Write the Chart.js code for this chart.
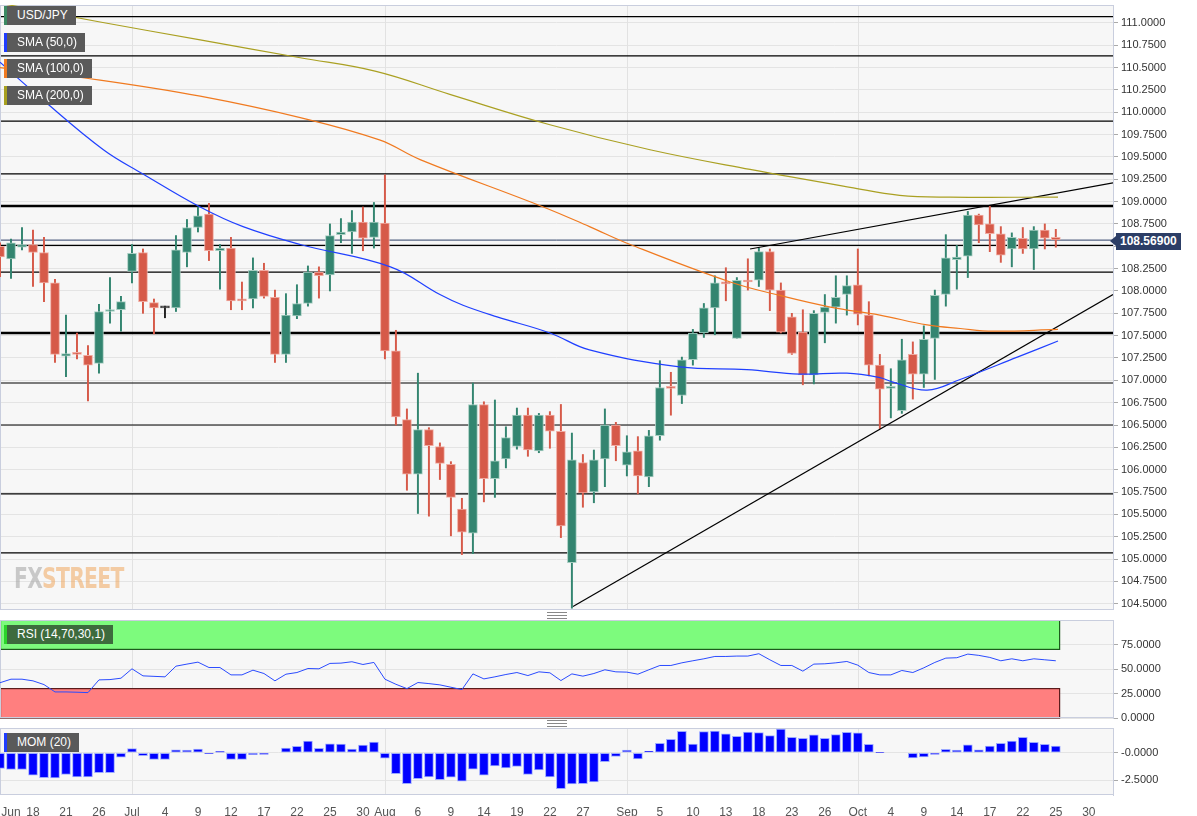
<!DOCTYPE html>
<html><head><meta charset="utf-8">
<script src="https://cdn.jsdelivr.net/npm/chart.js@4"></script>
<style>
body{margin:0;background:#fff;font-family:"Liberation Sans",Arial,sans-serif;width:1197px;height:816px;overflow:hidden;position:relative}
canvas{position:absolute;left:0}
.lbl{position:absolute;left:4px;height:19px;line-height:19px;background:#5a5a5a;color:#fff;font-size:12px;padding:0 8px 0 10px;border-left:3px solid #2e7d5f;box-sizing:border-box}
.wm{position:absolute;left:14px;top:561px;font:bold 29px "DejaVu Sans",sans-serif;letter-spacing:-1px;color:#9a9a9a;opacity:.5;transform:scaleX(0.7);transform-origin:0 0}
.wm span{color:#f0a050}
.price{position:absolute;left:1116px;top:233px;height:17px;line-height:17px;background:#2c3e66;color:#fff;font-size:12px;font-weight:bold;padding:0 4px}
.price:before{content:"";position:absolute;left:-6px;top:3px;border:5px solid transparent;border-right:6px solid #2c3e66;border-left:0}
.grip{position:absolute;left:547px;width:20px;height:5px;border-top:1px solid #888;border-bottom:1px solid #888}
.grip:after{content:"";position:absolute;left:0;right:0;top:2px;border-top:1px solid #888}
</style></head><body>
<canvas id="main"></canvas>
<canvas id="rsi"></canvas>
<canvas id="mom"></canvas>
<div class="lbl" style="top:6px;border-left-color:#3c8a63">USD/JPY</div>
<div class="lbl" style="top:33px;border-left-color:#1f3cff">SMA (50,0)</div>
<div class="lbl" style="top:59px;border-left-color:#f07a20">SMA (100,0)</div>
<div class="lbl" style="top:86px;border-left-color:#a8a020">SMA (200,0)</div>
<div class="lbl" style="top:625px;border-left-color:#2bd42b;background:#3d6b3d">RSI (14,70,30,1)</div>
<div class="lbl" style="top:733px;border-left-color:#1f3cff">MOM (20)</div>
<div class="wm">FX<span>STREET</span></div>
<div class="price">108.56900</div>
<div class="grip" style="top:612px"></div>
<div class="grip" style="top:720px"></div>
<script>
// ---- data ----
const openP  =[108.50,108.36,108.49,108.52,108.43,108.09,107.27,107.31,107.28,107.19,107.77,107.79,108.22,108.43,107.87,107.81,107.81,108.43,108.71,108.86,108.45,108.48,107.91,107.91,108.23,107.93,107.29,107.72,107.86,108.21,108.18,108.63,108.66,108.77,108.60,108.76,107.33,106.56,105.95,106.45,106.26,106.06,105.56,105.29,106.73,105.90,106.12,106.26,106.61,106.21,106.61,106.43,104.96,106.08,105.75,106.12,106.50,106.05,106.21,105.92,106.38,106.92,106.83,107.23,107.53,107.81,108.10,107.47,108.11,108.12,108.44,108.01,107.71,107.54,107.06,107.76,107.82,107.96,108.07,107.73,107.17,106.91,106.66,107.29,107.07,107.47,107.96,108.35,108.39,108.85,108.75,108.64,108.47,108.59,108.47,108.68,108.60];
const highP  =[108.54,108.58,108.71,108.68,108.60,108.13,107.73,107.53,107.39,107.85,108.15,107.94,108.52,108.47,107.91,107.83,108.62,108.80,108.94,108.98,108.52,108.60,108.10,108.37,108.31,108.01,107.97,108.07,108.28,108.27,108.75,108.81,108.90,108.94,108.99,109.30,107.56,106.68,107.08,106.47,106.30,106.09,105.68,106.97,106.76,106.78,106.48,106.69,106.69,106.63,106.65,106.73,106.41,106.17,106.22,106.68,106.53,106.38,106.37,106.44,107.22,107.09,107.26,107.57,107.86,108.17,108.26,108.15,108.36,108.48,108.47,108.09,107.75,107.79,107.78,107.96,108.17,108.17,108.47,107.88,107.29,107.13,107.46,107.43,107.61,108.01,108.63,108.51,108.89,108.86,108.95,108.72,108.65,108.71,108.72,108.75,108.69];
const lowP   =[108.16,108.14,108.46,108.05,107.88,107.20,107.04,107.24,106.77,107.08,107.64,107.55,108.09,107.75,107.52,107.70,107.77,108.27,108.66,108.34,108.02,107.79,107.79,107.81,107.92,107.20,107.20,107.69,107.83,107.92,108.00,108.54,108.42,108.45,108.48,107.24,106.50,105.77,105.51,105.48,105.89,105.26,105.05,105.06,105.64,105.69,106.02,106.23,106.15,106.19,106.24,105.24,104.45,105.58,105.63,105.81,106.10,105.93,105.73,105.81,106.33,106.61,106.74,107.17,107.48,107.51,107.89,107.47,108.01,108.05,107.78,107.53,107.29,106.95,106.96,107.42,107.64,107.73,107.62,107.05,106.46,106.58,106.63,106.79,106.92,107.01,107.83,108.02,108.15,108.54,108.44,108.32,108.27,108.42,108.24,108.47,108.49];
const closeP =[108.38,108.54,108.52,108.43,108.09,107.29,107.30,107.29,107.17,107.77,107.79,107.88,108.42,107.88,107.81,107.81,108.46,108.71,108.84,108.45,108.48,107.89,107.89,108.23,107.94,107.29,107.73,107.86,108.21,108.17,108.62,108.66,108.77,108.59,108.77,107.33,106.59,105.95,106.45,106.27,106.07,105.69,105.30,106.73,105.90,106.10,106.36,106.61,106.22,106.61,106.43,105.37,106.11,105.74,106.11,106.50,106.27,106.20,105.93,106.38,106.92,106.91,107.23,107.53,107.81,108.09,108.08,108.12,108.10,108.44,108.01,107.54,107.30,107.06,107.75,107.82,107.93,108.06,107.74,107.17,106.90,106.91,107.23,107.07,107.46,107.95,108.37,108.38,108.85,108.74,108.64,108.40,108.60,108.47,108.68,108.59,108.57];
const neutralDays=[15];
const sma50X =[0,3.6,9.4,13,18.2,22.1,27.3,35.5,40,42.1,45.2,50,53.6,61.8,67.9,72.7,77,80,81.2,84.3,87.3,92.5,96.2];
const sma50Y =[110.56,110.17,109.58,109.31,108.94,108.72,108.52,108.27,107.96,107.84,107.71,107.53,107.34,107.15,107.12,107.07,107.08,107.03,106.98,106.89,107.01,107.26,107.44];
const sma100X=[0,9.1,18.2,27.3,34.5,38.2,49.4,53.6,57.3,66.4,70.9,75.5,80,84.3,87.3,90.3,96.2];
const sma100Y=[110.50,110.36,110.18,109.94,109.69,109.47,108.94,108.72,108.52,108.10,107.95,107.82,107.73,107.62,107.58,107.55,107.57];
const sma200X=[0,9.1,18.2,27.3,34.1,40.9,50,59.1,68.2,77.3,81.8,86.4,96.2];
const sma200Y=[111.22,111.01,110.81,110.61,110.46,110.20,109.86,109.58,109.36,109.16,109.07,109.05,109.05];
const trendUpX=[68.2,101.2], trendUpY=[108.47,109.21];
const trendLowX=[52.1,101.2], trendLowY=[104.47,107.96];
const levels=[111.07,110.63,109.90,109.31,108.95,108.51,108.21,107.53,106.97,106.50,105.73,105.07];
const thickLevels=[108.95,107.53];
const lastPrice=108.569;
const rsi=[36,39.6,39.6,37.9,34.1,26.6,26.6,26.3,25.9,38.9,39.2,40.6,50.2,43,42.5,42,52.9,55,57,51.5,51.5,44,44,48.8,45.4,37.9,44.7,46.4,50.5,50.2,55.7,56,57.4,54.6,56.7,39.6,34.4,30,36.2,35.1,33.8,31.4,29,45,39.9,42,44.4,46.4,43.3,47.1,46.1,38.2,45,42.7,45.4,49.2,47.1,46.8,44.7,49.2,53.6,53.6,56.3,58.4,60.4,62.8,62.8,63.2,63.2,65.6,59.4,53.6,53.6,47.8,55,55.3,56.3,57.7,53.9,46.4,44,44,48.5,46.4,51.2,56.7,61.1,61.5,65.2,63.9,61.8,58.4,60.4,58.4,60.4,59.4,58.4];
const mom=[-1.43,-1.52,-1.52,-2.04,-2.26,-2.29,-1.98,-2.20,-2.20,-1.80,-1.80,-0.40,0.37,-0.27,-0.61,-0.61,0.27,0.24,0.34,-0.09,0.12,-0.61,-0.61,-0.18,-0.15,0,0.43,0.58,1.07,0.40,0.82,0.79,0.34,0.70,0.98,-0.49,-1.89,-2.80,-2.35,-2.20,-2.44,-2.23,-2.59,-1.49,-2.04,-1.19,-1.37,-1.25,-1.98,-1.55,-2.20,-3.26,-2.84,-2.82,-2.65,-0.82,-0.34,0.24,-0.55,0.15,0.85,1.22,1.95,0.79,1.92,1.98,1.71,1.49,1.89,1.83,1.55,2.16,1.40,1.31,1.62,1.31,1.65,1.86,1.80,0.76,0.02,0,0,-0.46,-0.37,-0.15,0.30,0.24,0.73,0.27,0.61,0.85,1.07,1.40,0.95,0.76,0.61];
const xTickIdx=[1.0,3,6,9,12,15,18,21,24,27,30,33,35,38,41,44,47,50,53,57,60,63,66,69,72,75,78,81,84,87,90,93,96,99];
const xTickLabels=["Jun","18","21","26","Jul","4","9","12","17","22","25","30","Aug","6","9","14","19","22","27","Sep","5","10","13","18","23","26","Oct","4","9","14","17","22","25","30"];
const monthIdx=[12,35,57,78];
const priceTicks=[];for(let v=104.5;v<=111.001;v+=0.25)priceTicks.push(+v.toFixed(2));

// ---- helpers ----
Chart.defaults.font.family='"Liberation Sans",Arial,sans-serif';
Chart.defaults.animation=false;
const XMIN=0,XMAX=101.2,W=1197,AXW=84;
function setup(id,top,h){const c=document.getElementById(id);c.style.top=top+'px';c.width=W;c.height=h;c.style.width=W+'px';c.style.height=h+'px';return c;}
function xScale(display){return {type:'linear',min:XMIN,max:XMAX,offset:false,display:display,grid:{display:false,offset:false},border:{display:false},
  afterBuildTicks(s){s.ticks=xTickIdx.map(v=>({value:v}));},
  ticks:{autoSkip:false,maxRotation:0,color:'#555',font:{size:12},padding:2,callback:(v,i)=>xTickLabels[i]},
  afterFit(s){s.height=display?21:0;s.paddingLeft=0;s.paddingRight=0;}};}
function yScale(min,max,ticks,fmt){return {position:'right',min,max,
  afterBuildTicks(s){s.ticks=ticks.map(v=>({value:v}));},
  afterFit(s){s.width=AXW;s.paddingTop=0;s.paddingBottom=0;},
  grid:{color:'#e4e4e4',tickColor:'#aaa',tickLength:5,drawOnChartArea:true},
  border:{color:'#c9cede'},
  ticks:{color:'#333',font:{size:11},padding:3,callback:fmt}};}
const panelPlugin={id:'panel',
  beforeDraw(ch,a,o){const {ctx,chartArea:c}=ch;ctx.save();ctx.fillStyle='#f7f7f7';ctx.fillRect(c.left,c.top,c.right-c.left,c.bottom-c.top);ctx.restore();},
  beforeDatasetsDraw(ch,a,o){const {ctx,chartArea:c,scales}=ch;ctx.save();
    ctx.strokeStyle='#e2e2e2';ctx.lineWidth=1;
    monthIdx.forEach(m=>{const x=Math.round(scales.x.getPixelForValue(m))+.5;ctx.beginPath();ctx.moveTo(x,c.top);ctx.lineTo(x,c.bottom);ctx.stroke();});
    (o.bands||[]).forEach(b=>{const y1=scales.y.getPixelForValue(b[1]),y0=scales.y.getPixelForValue(b[0]);const xr=scales.x.getPixelForValue(96.3);
      ctx.fillStyle=b[2];ctx.fillRect(c.left,y1,xr-c.left,y0-y1);ctx.strokeStyle=b[3];ctx.lineWidth=1.2;ctx.strokeRect(c.left+.5,y1,xr-c.left,y0-y1);});
    (o.levels||[]).forEach(l=>{const y=scales.y.getPixelForValue(l);ctx.strokeStyle='#000';ctx.lineWidth=thickLevels.includes(l)?2.5:1.2;ctx.beginPath();ctx.moveTo(c.left,y);ctx.lineTo(c.right,y);ctx.stroke();});
    if(o.last){const y=scales.y.getPixelForValue(o.last);ctx.strokeStyle='#2c3e66';ctx.lineWidth=1;ctx.beginPath();ctx.moveTo(c.left,y);ctx.lineTo(c.right,y);ctx.stroke();}
    ctx.strokeStyle='#c9cede';ctx.lineWidth=1;ctx.strokeRect(c.left+.5,c.top+.5,c.right-c.left,c.bottom-c.top-1);
    ctx.restore();}};
Chart.register(panelPlugin);
const pts=(X,Y)=>X.map((x,i)=>({x,y:Y[i]}));
const idx=openP.map((_,i)=>i);
const candleCol=i=>neutralDays.includes(i)?'#222':(closeP[i]>=openP[i]?'#338570':'#d65a49');
const candleBorder=i=>neutralDays.includes(i)?'#555':(closeP[i]>=openP[i]?'#a6cdc1':'#f0aaa0');

// ---- main ----
new Chart(setup('main',5,605),{
  data:{datasets:[
    {type:'bar',data:idx.map(i=>({x:i,y:[lowP[i],highP[i]]})),backgroundColor:idx.map(candleCol),barThickness:1.3,grouped:false,order:3},
    {type:'bar',data:idx.map(i=>({x:i,y:[openP[i],closeP[i]]})),backgroundColor:idx.map(candleCol),borderColor:idx.map(candleBorder),borderWidth:1,borderSkipped:false,barThickness:9,minBarLength:2,grouped:false,order:2},
    {type:'line',data:pts(sma50X,sma50Y),borderColor:'#2040ff',borderWidth:1.2,pointRadius:0,tension:0.4,order:1},
    {type:'line',data:pts(sma100X,sma100Y),borderColor:'#f07a20',borderWidth:1.2,pointRadius:0,tension:0.4,order:1},
    {type:'line',data:pts(sma200X,sma200Y),borderColor:'#aaa022',borderWidth:1.2,pointRadius:0,tension:0.4,order:1},
    {type:'line',data:pts(trendUpX,trendUpY),borderColor:'#000',borderWidth:1.2,pointRadius:0,order:1},
    {type:'line',data:pts(trendLowX,trendLowY),borderColor:'#000',borderWidth:1.2,pointRadius:0,order:1}
  ]},
  options:{responsive:false,devicePixelRatio:1,layout:{padding:0},
    plugins:{legend:{display:false},tooltip:{enabled:false},panel:{levels,last:lastPrice}},
    scales:{x:xScale(false),y:yScale(104.43,111.2,priceTicks,v=>v.toFixed(4))}}
});
// ---- rsi ----
new Chart(setup('rsi',620,104),{
  data:{datasets:[{type:'line',data:pts(idx,rsi),borderColor:'#2a4bff',borderWidth:1,pointRadius:0,tension:0}]},
  options:{responsive:false,devicePixelRatio:1,layout:{padding:{bottom:6}},
    plugins:{legend:{display:false},tooltip:{enabled:false},panel:{bands:[[70,100,'#7dfb7d','#1c5a1c'],[0,30,'#ff7f7f','#5a1c1c']]}},
    scales:{x:xScale(false),y:yScale(0,100,[0,25,50,75],v=>v.toFixed(4))}}
});
// ---- mom ----
new Chart(setup('mom',728,88),{
  data:{datasets:[{type:'bar',data:pts(idx,mom),backgroundColor:'#0000ff',borderColor:'#9aa8ff',borderWidth:1,borderSkipped:false,barThickness:9,grouped:false}]},
  options:{responsive:false,devicePixelRatio:1,layout:{padding:0},
    plugins:{legend:{display:false},tooltip:{enabled:false},panel:{}},
    scales:{x:xScale(true),y:yScale(-3.84,2.25,[-2.5,0],v=>(v===0?'-0.0000':v.toFixed(4)))}}
});
</script></body></html>
